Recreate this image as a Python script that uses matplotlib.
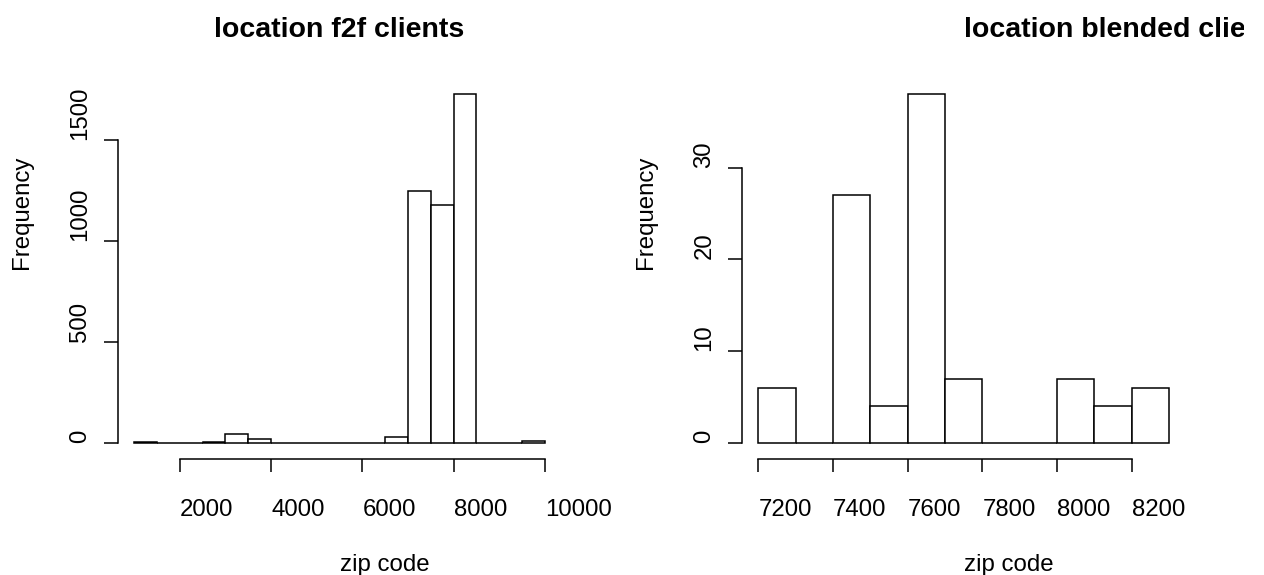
import numpy as np
import matplotlib
matplotlib.use("Agg")
import matplotlib.pyplot as plt
from matplotlib.transforms import Bbox

plt.rcParams['font.family'] = ['Liberation Sans', 'DejaVu Sans']

# zip code histograms, counts per bin
f2f_breaks = np.arange(1000, 10001, 500)
f2f_counts = [6, 0, 0, 5, 43, 21, 0, 0, 0, 0, 0, 30, 1248, 1178, 1725, 0, 0, 7]
f2f_xticks = [2000, 4000, 6000, 8000, 10000]
f2f_yticks = [0, 500, 1000, 1500]

blended_breaks = np.arange(7200, 8301, 100)
blended_counts = [6, 0, 27, 4, 38, 7, 0, 0, 7, 4, 6]
blended_xticks = [7200, 7400, 7600, 7800, 8000, 8200]
blended_yticks = [0, 10, 20, 30]

titles = ["location f2f clients", "location blended clients"]

FS = 17.3
W, H = 1264, 575
fig = plt.figure(figsize=(W / 100, H / 100), dpi=100)

panels = [
    (117.8, f2f_breaks, f2f_counts, f2f_xticks, f2f_yticks, 'center'),
    (741.9, blended_breaks, blended_counts, blended_xticks, blended_yticks, 'left'),
]
top_px, bot_px, width_px = 80.5, 456.7, 443.5

# device region that text is clipped to
clip = Bbox.from_extents(0, 0, 1244, H)

for i, (left_px, breaks, counts, xt, yt, title_ha) in enumerate(panels):
    ax = fig.add_axes([left_px / W, 1 - bot_px / H, width_px / W, (bot_px - top_px) / H])
    bw = breaks[1] - breaks[0]
    ax.bar(breaks[:-1], counts, width=bw, align='edge',
           facecolor='white', edgecolor='black', linewidth=1.1)

    # R-style 4% padding around the data range
    span = breaks[-1] - breaks[0]
    ax.set_xlim(breaks[0] - 0.04 * span, breaks[-1] + 0.04 * span)
    ymax = max(counts)
    ax.set_ylim(-0.04 * ymax, 1.04 * ymax)

    for s in ['top', 'right']:
        ax.spines[s].set_visible(False)
    ax.spines['bottom'].set_bounds(xt[0], xt[-1])
    ax.spines['bottom'].set_position(('outward', 2))
    ax.spines['left'].set_bounds(yt[0], yt[-1])
    for s in ['bottom', 'left']:
        ax.spines[s].set_linewidth(1.1)

    ax.set_xticks(xt)
    ax.set_xticklabels([str(v) for v in xt])
    ax.set_yticks(yt)
    ax.set_yticklabels([str(v) for v in yt])
    ax.tick_params(axis='x', direction='out', length=9.5, width=1.1, pad=19, labelsize=FS)
    ax.tick_params(axis='y', direction='out', length=10, width=1.1, pad=9, labelsize=FS)
    for lbl in ax.get_xticklabels():
        lbl.set_ha('left')
    for lbl in ax.get_yticklabels():
        lbl.set_rotation(90)
        lbl.set_va('bottom')

    t = ax.text(0.5, 1.116, titles[i], transform=ax.transAxes, ha=title_ha,
                va='baseline', fontsize=20.5, fontweight='bold')
    t.set_clip_box(clip)
    t.set_clip_on(True)
    ax.text(0.5, -0.304, "zip code", transform=ax.transAxes, ha='left',
            va='baseline', fontsize=FS)
    ax.text(-0.203, 0.5, "Frequency", transform=ax.transAxes, rotation=90,
            rotation_mode='anchor', ha='left', va='baseline', fontsize=FS)

fig.savefig("out.png", dpi=100)
